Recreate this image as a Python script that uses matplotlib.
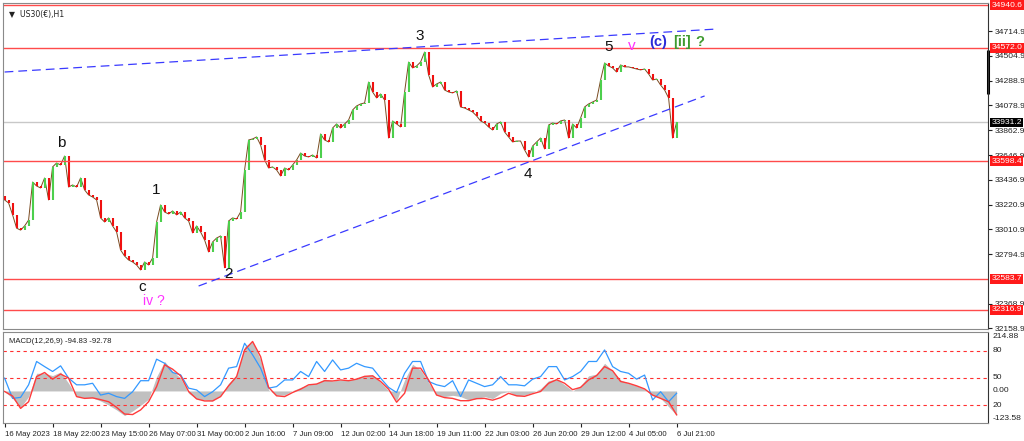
import numpy as np
import matplotlib
matplotlib.use('Agg')
import matplotlib.pyplot as plt

plt.rcParams['font.family'] = ['Liberation Sans', 'DejaVu Sans']

# ---- price data (H1 US30, ~4 bars merged per candle) ----
closes = [
    33264, 33238, 33135, 33021, 33004, 33040, 33091, 33418, 33384, 33367,
    33453, 33264, 33548, 33582, 33565, 33642, 33375, 33393, 33375, 33453,
    33350, 33307, 33289, 33264, 33109, 33074, 33109, 33040, 32988, 32833,
    32781, 32747, 32730, 32704, 32661, 32730, 32704, 32764, 33074, 33221,
    33160, 33143, 33169, 33135, 33160, 33109, 33083, 32980, 33040, 32988,
    32919, 32816, 32902, 32936, 32954, 32680, 33083, 33109, 33100, 33160,
    33522, 33780, 33789, 33806, 33737, 33608, 33539, 33548, 33522, 33470,
    33539, 33522, 33565, 33608, 33668, 33642, 33634, 33651, 33625, 33832,
    33780, 33763, 33883, 33918, 33883, 33918, 33952, 34038, 34073, 34090,
    34099, 34279, 34193, 34142, 34176, 34124, 33797, 33944, 33918, 33892,
    34193, 34451, 34400, 34417, 34451, 34537, 34340, 34236, 34262, 34279,
    34210, 34193, 34185, 34202, 34064, 34055, 34038, 34021, 33987, 33944,
    33926, 33892, 33866, 33918, 33935, 33849, 33806, 33763, 33771, 33771,
    33694, 33634, 33728, 33763, 33797, 33703, 33909, 33926, 33918, 33944,
    33952, 33797, 33918, 33883, 33969, 34064, 34090, 34107, 34124, 34296,
    34443, 34417, 34400, 34365, 34426, 34409, 34409, 34400, 34391, 34383,
    34391, 34348, 34296, 34305, 34253, 34210, 34142, 33797, 33931,
]
first_open = 33300

# horizontal levels
red_levels = [34940.6, 34572.0, 33598.4, 32583.7, 32316.9]
last_price = 33931.2

# channel lines (bar index, price)
upper_line = ([0, 178], [34365, 34735])
lower_line = ([48.5, 175], [32523, 34159])

price_ticks = [34714.9, 34504.9, 34288.9, 34078.9, 33862.9, 33646.9,
               33436.9, 33220.9, 33010.9, 32794.9, 32368.9, 32158.9]

date_pos = [0, 12, 24, 36, 48, 60, 72, 84, 96, 108, 120, 132, 144, 156, 168]
date_labels = ['16 May 2023', '18 May 22:00', '23 May 15:00', '26 May 07:00',
               '31 May 00:00', '2 Jun 16:00', '7 Jun 09:00', '12 Jun 02:00',
               '14 Jun 18:00', '19 Jun 11:00', '22 Jun 03:00', '26 Jun 20:00',
               '29 Jun 12:00', '4 Jul 05:00', '6 Jul 21:00']

# ---- MACD panel (every 2nd candle) ----
macd_hist = [
    -2, -29, -65, -22, 69, 69, 60, 74, 30, -22, -26, -27, -39, -55, -74, -96,
    -78, -56, -32, 56, 115, 78, 50, -9, -31, -35, -39, -17, 30, 63, 173, 193,
    121, 4, -16, -16, 1, 14, 24, 30, 47, 39, 43, 43, 50, 59, 63, 33, 1, -38,
    43, 104, 82, 33, -16, -22, -17, -22, -35, -30, -22, -30, -9, -2, -19, -16,
    -6, 9, 40, 47, 24, 0, 20, 59, 66, 108, 79, 43, 30, 20, 7, -18, -29, -61, -95,
]
macd_signal = [
    -2, -20, -68, -42, 56, 72, 46, 66, 50, -22, -29, -27, -34, -42, -64, -90,
    -92, -74, -42, 17, 102, 85, 59, -2, -31, -39, -39, -22, 20, 56, 160, 193,
    134, 14, -19, -22, -6, 7, 24, 27, 40, 39, 43, 40, 46, 57, 59, 37, 7, -44,
    -9, 89, 89, 43, -16, -26, -29, -38, -38, -30, -29, -36, -26, -9, -19, -21,
    -11, -2, 30, 44, 30, 5, 14, 43, 60, 95, 79, 37, 30, 20, 8, -16, -29, -42, -93,
]
macd_fast = [
    50, -29, -25, 24, 115, 95, 76, 98, 50, 24, 24, 30, -16, -9, -22, -29,
    -3, 40, 40, 124, 108, 72, 63, 11, 4, -22, -3, 24, 89, 95, 186, 141,
    89, 11, 17, 43, 43, 76, 56, 115, 76, 121, 82, 89, 108, 95, 89, 50, 14, -6,
    69, 115, 115, 37, 24, 17, 40, -22, 43, 30, 17, 24, 56, 24, 24, 20,
    46, 56, 95, 95, 43, 56, 76, 115, 115, 160, 95, 76, 69, 46, 62, -35, -3, -42, -9,
]
macd_levels = [156, 51, -55]
macd_level_labels = ['80', '50', '20']

W, H = 1024, 441
fig = plt.figure(figsize=(W / 100, H / 100), dpi=100)
fig.patch.set_facecolor('white')
FS = 5.6      # date axis / indicator text
FSP = 6.1     # price scale


def rect(x0, y0, x1, y1):
    return [x0 / W, 1 - y1 / H, (x1 - x0) / W, (y1 - y0) / H]


ax = fig.add_axes(rect(3, 3, 988, 329))
ax2 = fig.add_axes(rect(3, 332, 988, 423))
xlim = (-0.4, 245.85)

# candles
n = len(closes)
idx = np.arange(n)
opens = np.array([first_open] + closes[:-1])
cl = np.array(closes)
lo = np.minimum(opens, cl)
hi = np.maximum(opens, cl)
up = cl >= opens
ax.plot(idx, cl, color='#7a4a20', lw=0.7, zorder=1)
ax.vlines(idx[up], lo[up], hi[up], colors='#4ccf4c', linewidth=1.5, zorder=2)
ax.vlines(idx[~up], lo[~up], hi[~up], colors='#f01010', linewidth=1.5, zorder=2)

for lv in red_levels:
    ax.axhline(lv, color='#ff4b4b', lw=1.0)
ax.axhline(last_price, color='#c8c8c8', lw=1.0, zorder=0)

ax.plot(*upper_line, color='#3a3aff', lw=0.9, dashes=(7, 4))
ax.plot(*lower_line, color='#3a3aff', lw=0.9, dashes=(7, 4))

# wave labels
lab = dict(fontsize=11, ha='center', va='center')
ax.text(14.25, 33754, 'b', color='#111111', **lab)
ax.text(38, 33350, '1', color='#111111', **lab)
ax.text(34.5, 32515, 'c', color='#111111', **lab)
ax.text(37.2, 32395, 'iv ?', color='#ff33ff', fontsize=10, ha='center', va='center')
ax.text(56, 32627, '2', color='#111111', **lab)
ax.text(103.75, 34675, '3', color='#111111', **lab)
ax.text(130.75, 33487, '4', color='#111111', **lab)
ax.text(151, 34580, '5', color='#111111', **lab)
ax.text(156.75, 34589, 'v', color='#ff33ff', **lab)
bl = dict(fontsize=10.5, fontweight='bold', ha='center', va='center')
ax.text(163.4, 34624, '(c)', color='#2a2ad8', **bl)
ax.text(169.3, 34624, '[ii]', color='#3f9a2f', **bl)
ax.text(173.8, 34624, '?', color='#3f9a2f', **bl)

ax.text(0.006, 0.977, '\u25bc  US30(\u20ac),H1', transform=ax.transAxes,
        fontsize=FS, va='top', ha='left', color='#222222',
        family=['DejaVu Sans'])

ax.set_xlim(*xlim)
ax.set_ylim(32153, 34959)
ax.set_xticks([])
ax.yaxis.tick_right()
ax.set_yticks(price_ticks)
ax.set_yticklabels([f'{v:.1f}' for v in price_ticks], fontsize=FSP, color='#222222')
ax.tick_params(axis='y', length=3, width=0.8, pad=2, colors='#222222')

# tags on price axis
for lv in red_levels:
    ax.annotate(f'{lv:.1f}', xy=(1.0, lv), xycoords=('axes fraction', 'data'),
                xytext=(2.5, 0), textcoords='offset points', fontsize=FSP,
                color='white', va='center', ha='left',
                bbox=dict(boxstyle='square,pad=0.15', fc='#ff1a1a', ec='none'))
ax.annotate(f'{last_price:.1f}', xy=(1.0, last_price), xycoords=('axes fraction', 'data'),
            xytext=(2.5, 0), textcoords='offset points', fontsize=FSP,
            color='white', va='center', ha='left',
            bbox=dict(boxstyle='square,pad=0.15', fc='#000000', ec='none'))
ax.plot([1.0, 1.0], [34176, 34555], transform=ax.get_yaxis_transform(),
        color='black', lw=2.2, clip_on=False, solid_capstyle='butt')

for sp in ax.spines.values():
    sp.set_color('#8a8a8a')
    sp.set_linewidth(0.8)
ax.spines['right'].set_color('#333333')

# MACD
mx = np.arange(len(macd_hist)) * 2
ax2.fill_between(mx, 0, macd_hist, color='#c0c0c0', lw=0)
for lv in macd_levels:
    ax2.axhline(lv, color='#ff3030', lw=0.8, dashes=(3, 3))
ax2.plot(mx, macd_fast, color='#3399ff', lw=0.9)
ax2.plot(mx, macd_signal, color='#ff3b3b', lw=1.0)
ax2.set_xlim(*xlim)
ax2.set_ylim(-125, 230)
ax2.set_yticks([])
ax2.text(0.006, 0.93, 'MACD(12,26,9) -94.83 -92.78', transform=ax2.transAxes,
         fontsize=FS, va='top', ha='left', color='#222222')

right_labels = [(226, '214.88', 'top'), (macd_levels[0], macd_level_labels[0], 'center'),
                (macd_levels[1], macd_level_labels[1], 'center'), (0, '0.00', 'center'),
                (macd_levels[2], macd_level_labels[2], 'center'), (-123, '-123.58', 'bottom')]
for v, t, va in right_labels:
    ax2.annotate(t, xy=(1.0, v), xycoords=('axes fraction', 'data'),
                 xytext=(3, 0), textcoords='offset points', fontsize=FSP,
                 color='#222222', va=va, ha='left')

ax2.set_xticks(date_pos)
ax2.set_xticklabels(date_labels, fontsize=FS, ha='left', color='#222222')
ax2.tick_params(axis='x', length=3, width=0.8, pad=3, colors='#222222')
for sp in ax2.spines.values():
    sp.set_color('#8a8a8a')
    sp.set_linewidth(0.8)
ax2.spines['right'].set_color('#333333')

fig.savefig('out.png', dpi=100)
